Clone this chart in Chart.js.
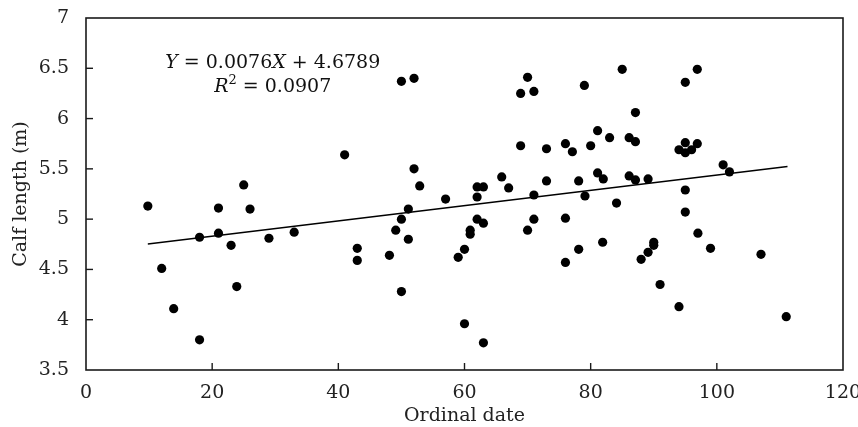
<!DOCTYPE html>
<html>
<head>
<meta charset="utf-8">
<script src="https://cdn.jsdelivr.net/npm/chart.js@4/dist/chart.umd.min.js"></script>
<style>
html,body{margin:0;padding:0;background:#fff;}
canvas{display:block;}
</style>
</head>
<body>
<canvas id="c" width="858" height="427"></canvas>
<script>
// Ordinal date (x) and calf length in m (y)
const ordinalDate = [9.8,12.0,13.9,18.0,18.0,21.0,21.0,23.0,23.9,25.0,26.0,29.0,33.0,41.0,43.0,43.0,48.1,49.1,50.0,50.0,50.0,51.1,51.1,52.0,52.0,52.9,57.0,59.0,60.0,60.0,60.9,60.9,62.0,62.0,62.0,63.0,63.0,63.0,65.9,67.0,68.9,68.9,70.0,70.0,71.0,71.0,71.0,73.0,73.0,76.0,76.0,76.0,77.1,78.1,78.1,79.0,79.1,80.0,81.1,81.1,82.0,81.9,83.0,84.1,85.0,86.1,86.1,87.1,87.1,87.1,88.0,89.1,89.1,90.0,90.0,91.0,94.0,94.0,95.0,95.0,95.0,95.0,95.0,96.0,96.9,96.9,97.0,99.0,101.0,102.0,107.0,111.0];
const calfLength  = [5.13,4.51,4.11,4.82,3.80,5.11,4.86,4.74,4.33,5.34,5.10,4.81,4.87,5.64,4.71,4.59,4.64,4.89,6.37,5.00,4.28,5.10,4.80,6.40,5.50,5.33,5.20,4.62,4.70,3.96,4.89,4.85,5.32,5.22,5.00,5.32,4.96,3.77,5.42,5.31,6.25,5.73,6.41,4.89,6.27,5.24,5.00,5.70,5.38,5.75,5.01,4.57,5.67,5.38,4.70,6.33,5.23,5.73,5.88,5.46,5.40,4.77,5.81,5.16,6.49,5.81,5.43,6.06,5.77,5.39,4.60,5.40,4.67,4.77,4.74,4.35,5.69,4.13,6.36,5.76,5.66,5.29,5.07,5.69,6.49,5.75,4.86,4.71,5.54,5.47,4.65,4.03];

// Regression reported in the figure
const slope = 0.0076;
const intercept = 4.6789;
const rSquared = "0.0907";
const fitRange = [9.8, 111.2];

// Axis ticks
const xTickValues = [0,20,40,60,80,100,120];
const yTickValues = [3.5,4,4.5,5,5.5,6,6.5,7];

// Annotation anchor (data coords)
const eqAnchorX = 29.6;
const eqLine1Y = 6.506;
const eqLine2Y = 6.26;

const FONT = "'DejaVu Serif', serif";
const points = ordinalDate.map((x,i)=>({x:x, y:calfLength[i]}));
const fitLine = fitRange.map(x=>({x:x, y:intercept + slope*x}));

const framePlugin = {
  id:'frame',
  afterDraw(chart){
    const {ctx, chartArea:a, scales} = chart;
    ctx.save();
    ctx.strokeStyle = '#1a1a1a';
    ctx.lineWidth = 1.6;
    ctx.strokeRect(a.left, a.top, a.right-a.left, a.bottom-a.top);
    ctx.lineWidth = 1.4;
    const tl = 7;
    xTickValues.forEach(v=>{
      if (v===scales.x.min || v===scales.x.max) return;
      const px = scales.x.getPixelForValue(v);
      ctx.beginPath(); ctx.moveTo(px, a.bottom); ctx.lineTo(px, a.bottom-tl); ctx.stroke();
    });
    yTickValues.forEach(v=>{
      if (v===scales.y.min || v===scales.y.max) return;
      const py = scales.y.getPixelForValue(v);
      ctx.beginPath(); ctx.moveTo(a.left, py); ctx.lineTo(a.left+tl, py); ctx.stroke();
    });
    // equation annotation
    const xc = scales.x.getPixelForValue(eqAnchorX);
    const y1 = scales.y.getPixelForValue(eqLine1Y);
    const y2 = scales.y.getPixelForValue(eqLine2Y);
    ctx.fillStyle = '#111';
    ctx.textBaseline = 'alphabetic';
    ctx.textAlign = 'left';
    const drawRuns = (runs, baseline) => {
      let w = 0;
      runs.forEach(r=>{ ctx.font = r.font; w += ctx.measureText(r.t).width; });
      let x = xc - w/2;
      runs.forEach(r=>{ ctx.font = r.font; ctx.fillText(r.t, x, baseline + (r.dy||0)); x += ctx.measureText(r.t).width; });
    };
    const nf = "19px " + FONT, itf = "italic 19px " + FONT, sf = "13px " + FONT;
    drawRuns([{t:'Y',font:itf},{t:' = '+slope.toFixed(4),font:nf},{t:'X',font:itf},{t:' + '+intercept.toFixed(4),font:nf}], y1);
    drawRuns([{t:'R',font:itf},{t:'2',font:sf,dy:-8},{t:' = '+rSquared,font:nf}], y2);
    ctx.restore();
  }
};

new Chart(document.getElementById('c'), {
  type:'scatter',
  data:{
    datasets:[
      {type:'line', data:fitLine, borderColor:'#000', borderWidth:1.4, pointRadius:0, fill:false, order:2},
      {type:'scatter', data:points, backgroundColor:'#000', borderWidth:0, pointRadius:4.6, order:1}
    ]
  },
  options:{
    responsive:false,
    animation:false,
    events:[],
    layout:{padding:{top:18,right:15,left:0,bottom:0}},
    plugins:{legend:{display:false}, tooltip:{enabled:false}},
    scales:{
      x:{
        type:'linear', min:0, max:120,
        afterBuildTicks:s=>{ s.ticks = xTickValues.map(v=>({value:v})); },
        afterFit:s=>{ s.height = 57; s.paddingLeft = 0; s.paddingRight = 0; },
        grid:{display:false},
        border:{display:false},
        ticks:{font:{family:FONT,size:19}, color:'#222', padding:4, maxRotation:0, autoSkip:false},
        title:{display:true, text:'Ordinal date', font:{family:FONT,size:19}, color:'#222', padding:{top:0,bottom:0}}
      },
      y:{
        type:'linear', min:3.5, max:7,
        afterBuildTicks:s=>{ s.ticks = yTickValues.map(v=>({value:v})); },
        afterFit:s=>{ s.width = 86; s.paddingTop = 0; s.paddingBottom = 0; },
        grid:{display:false},
        border:{display:false},
        ticks:{font:{family:FONT,size:19}, color:'#222', padding:9, autoSkip:false, callback:v=>String(v)},
        title:{display:true, text:'Calf length (m)', font:{family:FONT,size:19}, color:'#222', padding:{top:10,bottom:0}}
      }
    }
  },
  plugins:[framePlugin]
});
</script>
</body>
</html>
